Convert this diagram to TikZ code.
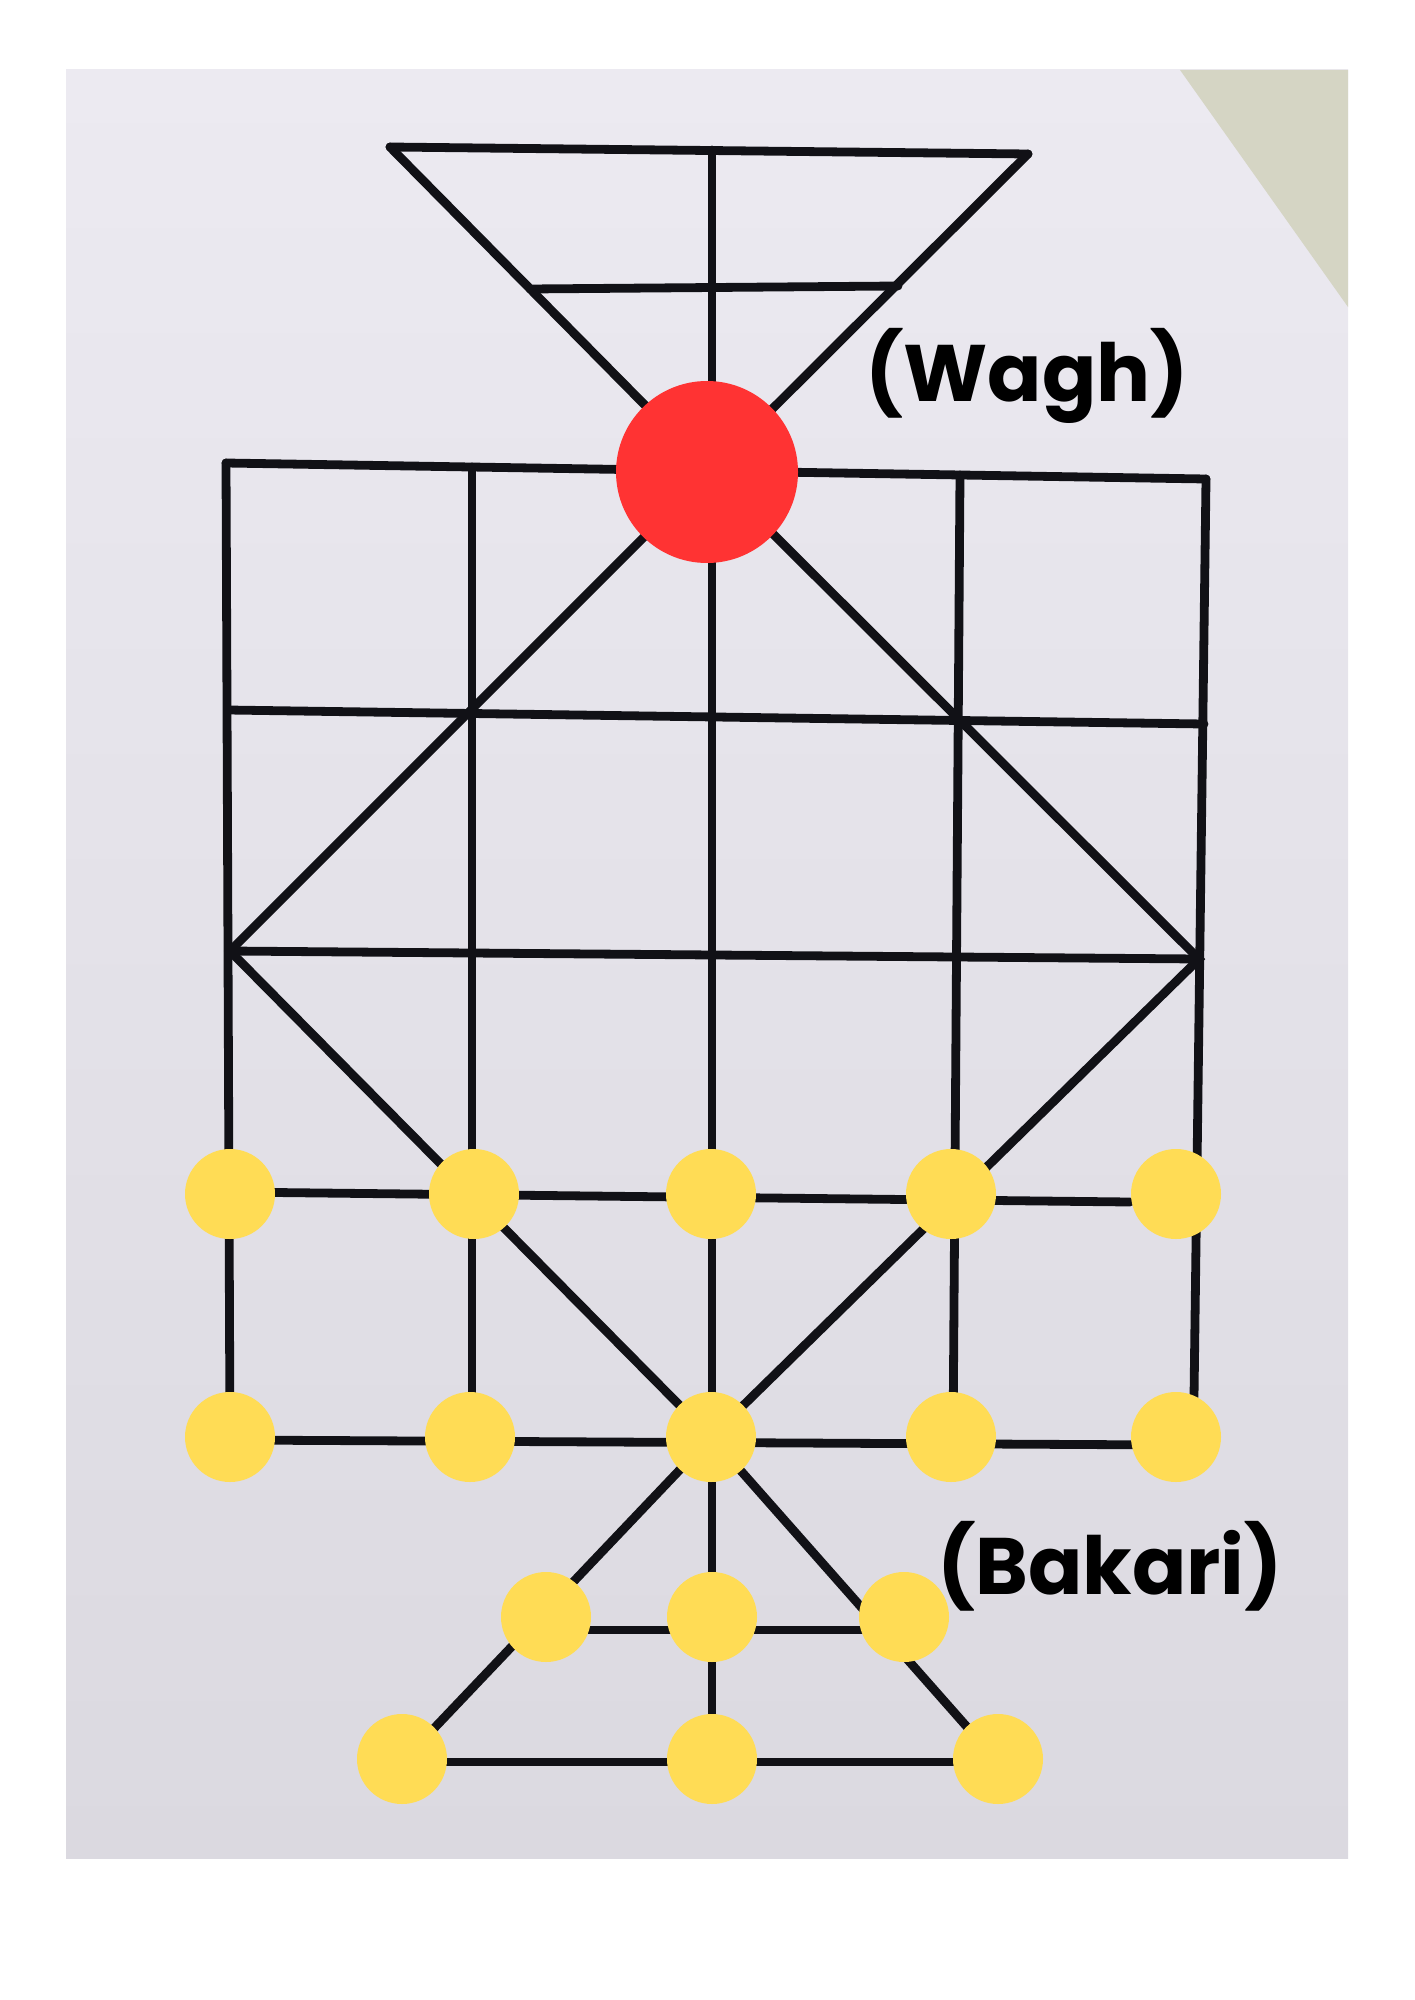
\documentclass[tikz,border=0pt]{standalone}
\usepackage{fontspec}
\setmainfont{Poppins}
\definecolor{papertop}{HTML}{ECEAF1}
\definecolor{paperbot}{HTML}{DBD9E0}
\definecolor{wall}{HTML}{D5D5C4}
\definecolor{ink}{HTML}{111116}
\definecolor{tigerred}{HTML}{FF3333}
\definecolor{goatyellow}{HTML}{FFDC55}

\begin{document}
\begin{tikzpicture}[%
    x=0.25mm, y=-0.25mm,        % one unit is one pixel of the photo
    line width=2.2mm,           % marker stroke
    ]
% -------------------------------------------------
% A few styles
\tikzset{
  board/.style={draw=ink, line cap=round},
  piece/.style={circle, inner sep=0pt, draw=none},
  wagh/.style={piece, fill=tigerred, minimum size=45.5mm},
  bakari/.style={piece, fill=goatyellow, minimum size=22.5mm},
  lbl/.style={font={\fontsize{57}{60}\selectfont\bfseries}, text=black,
    inner sep=0pt, anchor=base}
}
\useasboundingbox (0,0) rectangle (1414,2000);
% -------------------------------------------------
% The sheet of paper
\shade[top color=papertop, bottom color=paperbot] (66,70) rectangle (1348,1858);
\fill[wall] (1180,70) -- (1348,70) -- (1348,307) -- cycle;
% -------------------------------------------------
% Points of the board
\coordinate (t0) at (390,147);
\coordinate (t1) at (712,150);
\coordinate (t2) at (1028,154);
\coordinate (m0) at (530,289);
\coordinate (m2) at (898,286);
\coordinate (a0) at (226,463);
\coordinate (a1) at (472,467);
\coordinate (a2) at (710,471);
\coordinate (a3) at (960,475);
\coordinate (a4) at (1206,479);
\coordinate (b0) at (228,710);
\coordinate (b4) at (1204,724);
\coordinate (c0) at (230,951);
\coordinate (c4) at (1199,959);
\coordinate (d0) at (230,1192);
\coordinate (d4) at (1130,1202);
\coordinate (e0) at (230,1440);
\coordinate (e1) at (472,1440);
\coordinate (e2) at (711,1437);
\coordinate (e3) at (953,1443);
\coordinate (e4) at (1176,1445);
\coordinate (r4) at (1194,1397);
\coordinate (f0) at (546,1630);
\coordinate (f2) at (904,1630);
\coordinate (g0) at (402,1762);
\coordinate (g1) at (712,1762);
\coordinate (g2) at (998,1762);

% -------------------------------------------------
% Lines of the board
\draw[board] (t0) -- (t2);
\draw[board] (m0) -- (m2);
\draw[board] (t0) -- (a2) -- (t2);
\draw[board] (t1) -- (g1);
\draw[board] (a0) -- (a4);
\draw[board] (b0) -- (b4);
\draw[board] (c0) -- (c4);
\draw[board] (d0) -- (d4);
\draw[board] (e0) -- (e4);
\draw[board] (a0) -- (e0);
\draw[board] (a1) -- (e1);
\draw[board] (a3) -- (e3);
\draw[board] (a4) -- (r4);
\draw[board] (a2) -- (c0) -- (e2) -- (c4) -- cycle;
\draw[board] (g0) -- (e2) -- (g2);
\draw[board] (f0) -- (f2);
\draw[board] (g0) -- (g2);

% -------------------------------------------------
% Pieces
\node[wagh] (tiger) at (707,472) {};
\node[bakari] (p1) at (230,1194) {};
\node[bakari] (p2) at (474,1194) {};
\node[bakari] (p3) at (711,1194) {};
\node[bakari] (p4) at (951,1194) {};
\node[bakari] (p5) at (1176,1194) {};
\node[bakari] (p6) at (230,1437) {};
\node[bakari] (p7) at (470,1437) {};
\node[bakari] (p8) at (711,1437) {};
\node[bakari] (p9) at (951,1437) {};
\node[bakari] (p10) at (1176,1437) {};
\node[bakari] (p11) at (546,1617) {};
\node[bakari] (p12) at (712,1617) {};
\node[bakari] (p13) at (904,1617) {};
\node[bakari] (p14) at (402,1759) {};
\node[bakari] (p15) at (712,1759) {};
\node[bakari] (p16) at (998,1759) {};

% Names
\node[lbl] (waghlbl) at (1027,401) {(Wagh)};
\node[lbl] (bakarilbl) at (1110,1594) {(Bakari)};
% -------------------------------------------------
\end{tikzpicture}
\end{document}
